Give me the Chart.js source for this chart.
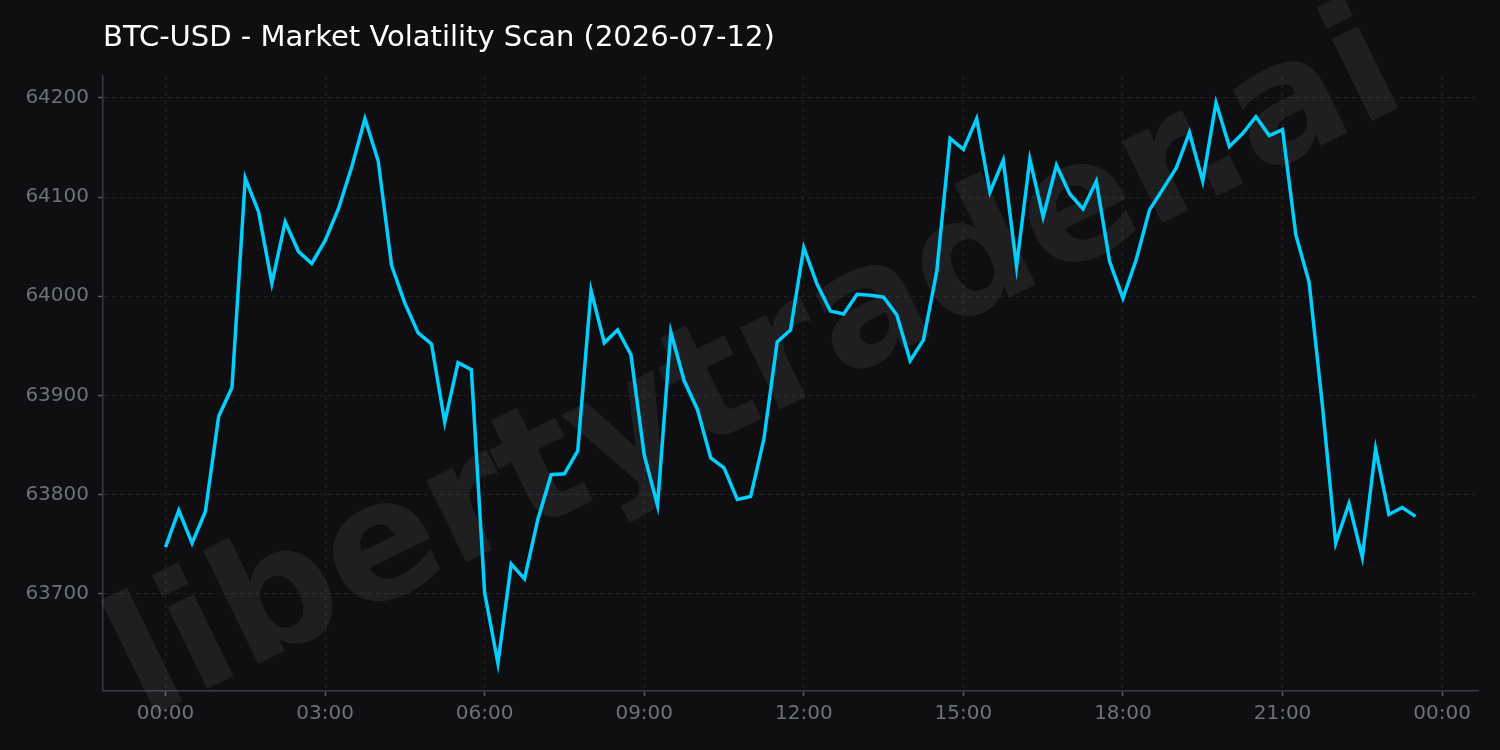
<!DOCTYPE html>
<html>
<head>
<meta charset="utf-8">
<script src="https://cdn.jsdelivr.net/npm/chart.js@4/dist/chart.umd.min.js"></script>
<style>
  html, body { margin: 0; padding: 0; background: #0f0f12; }
  #wrap { width: 1500px; height: 750px; }
</style>
</head>
<body>
<div id="wrap"><canvas id="volChart" width="1500" height="750"></canvas></div>
<script>
// BTC-USD price, one reading every 15 minutes from 00:00
const startHour = 0;
const stepHours = 0.25;
const prices = [
  63747, 63784, 63751, 63783, 63879, 63908, 64119, 64085, 64013, 64075,
  64045, 64033, 64056, 64088, 64130, 64179, 64136, 64031, 63993, 63963,
  63952, 63873, 63933, 63926, 63701, 63630, 63730, 63715, 63775, 63820,
  63821, 63844, 64006, 63953, 63966, 63941, 63840, 63789, 63964, 63915,
  63886, 63837, 63827, 63795, 63798, 63856, 63954, 63966, 64049, 64012,
  63985, 63982, 64002, 64001, 63999, 63981, 63935, 63956, 64025, 64159,
  64148, 64179, 64105, 64137, 64030, 64138, 64080, 64132, 64103, 64088,
  64116, 64035, 63998, 64037, 64087, 64108, 64129, 64165, 64116, 64195,
  64151, 64164, 64181, 64162, 64168, 64062, 64014, 63890, 63751, 63791,
  63737, 63846, 63780, 63787, 63778
];
const xTicks = [0, 3, 6, 9, 12, 15, 18, 21, 24];
const xTickLabels = ['00:00', '03:00', '06:00', '09:00', '12:00', '15:00', '18:00', '21:00', '00:00'];
const yTicks = [63700, 63800, 63900, 64000, 64100, 64200];

const points = prices.map((p, i) => ({ x: startHour + i * stepHours, y: p }));

const bgPlugin = {
  id: 'bg',
  beforeDraw(chart) {
    const ctx = chart.ctx;
    ctx.save();
    ctx.fillStyle = '#0f0f12';
    ctx.fillRect(0, 0, chart.width, chart.height);
    ctx.restore();
  },
  beforeDatasetsDraw(chart) {
    // watermark
    const ctx = chart.ctx;
    ctx.save();
    ctx.translate(758, 372);
    ctx.rotate(-26 * Math.PI / 180);
    ctx.font = 'bold 166px "DejaVu Sans"';
    ctx.fillStyle = 'rgba(255,255,255,0.07)';
    ctx.textAlign = 'center';
    ctx.textBaseline = 'middle';
    ctx.fillText('libertytrader.ai', 0, 0);
    ctx.restore();
  },
  afterDraw(chart) {
    const ctx = chart.ctx;
    ctx.save();
    ctx.font = '29px "DejaVu Sans"';
    ctx.fillStyle = '#ffffff';
    ctx.textAlign = 'left';
    ctx.textBaseline = 'alphabetic';
    ctx.fillText('BTC-USD - Market Volatility Scan (2026-07-12)', 103, 46);
    ctx.restore();
  }
};

const gridColor = 'rgba(255,255,255,0.08)';
const tickFont = { family: '"DejaVu Sans"', size: 20 };

try {
  new Chart(document.getElementById('volChart'), {
    type: 'line',
    data: {
      datasets: [{
        label: 'BTC-USD',
        data: points,
        borderColor: '#00cfff',
        borderWidth: 3.5,
        pointRadius: 0,
        tension: 0,
        fill: false,
      }],
    },
    options: {
      responsive: false,
      animation: false,
      devicePixelRatio: 1,
      layout: { padding: { top: 76, right: 22, left: 0, bottom: 0 } },
      plugins: {
        legend: { display: false },
        tooltip: { enabled: false },
        title: { display: false },
      },
      scales: {
        x: {
          type: 'linear',
          min: -1.175,
          max: 24.675,
          afterBuildTicks: (s) => { s.ticks = xTicks.map(v => ({ value: v })); },
          afterFit: (s) => { s.height = 59; },
          ticks: {
            color: '#6b727b',
            font: tickFont,
            padding: 6,
            maxRotation: 0,
            autoSkip: false,
            callback: (v) => xTickLabels[xTicks.indexOf(v)],
          },
          grid: {
            color: gridColor,
            tickLength: 5,
            tickColor: '#55595f',
            tickBorderDash: [],
            tickWidth: 1.5,
          },
          // in v4 border.dash sets the grid line dashes
          border: { display: true, color: '#3a3b3f', width: 1.5, dash: [4, 4] },
        },
        y: {
          type: 'linear',
          min: 63602,
          max: 64222,
          afterBuildTicks: (s) => { s.ticks = yTicks.map(v => ({ value: v })); },
          afterFit: (s) => { s.width = 103; },
          ticks: {
            color: '#6b727b',
            font: tickFont,
            padding: 9,
            callback: (v) => String(v),
          },
          grid: {
            color: gridColor,
            tickLength: 5,
            tickColor: '#55595f',
            tickBorderDash: [],
            tickWidth: 1.5,
          },
          border: { display: true, color: '#3a3b3f', width: 1.5, dash: [4, 4] },
        },
      },
    },
    plugins: [bgPlugin],
  });
} catch (error) {
  console.error('Chart initialization failed:', error);
}
</script>
</body>
</html>
